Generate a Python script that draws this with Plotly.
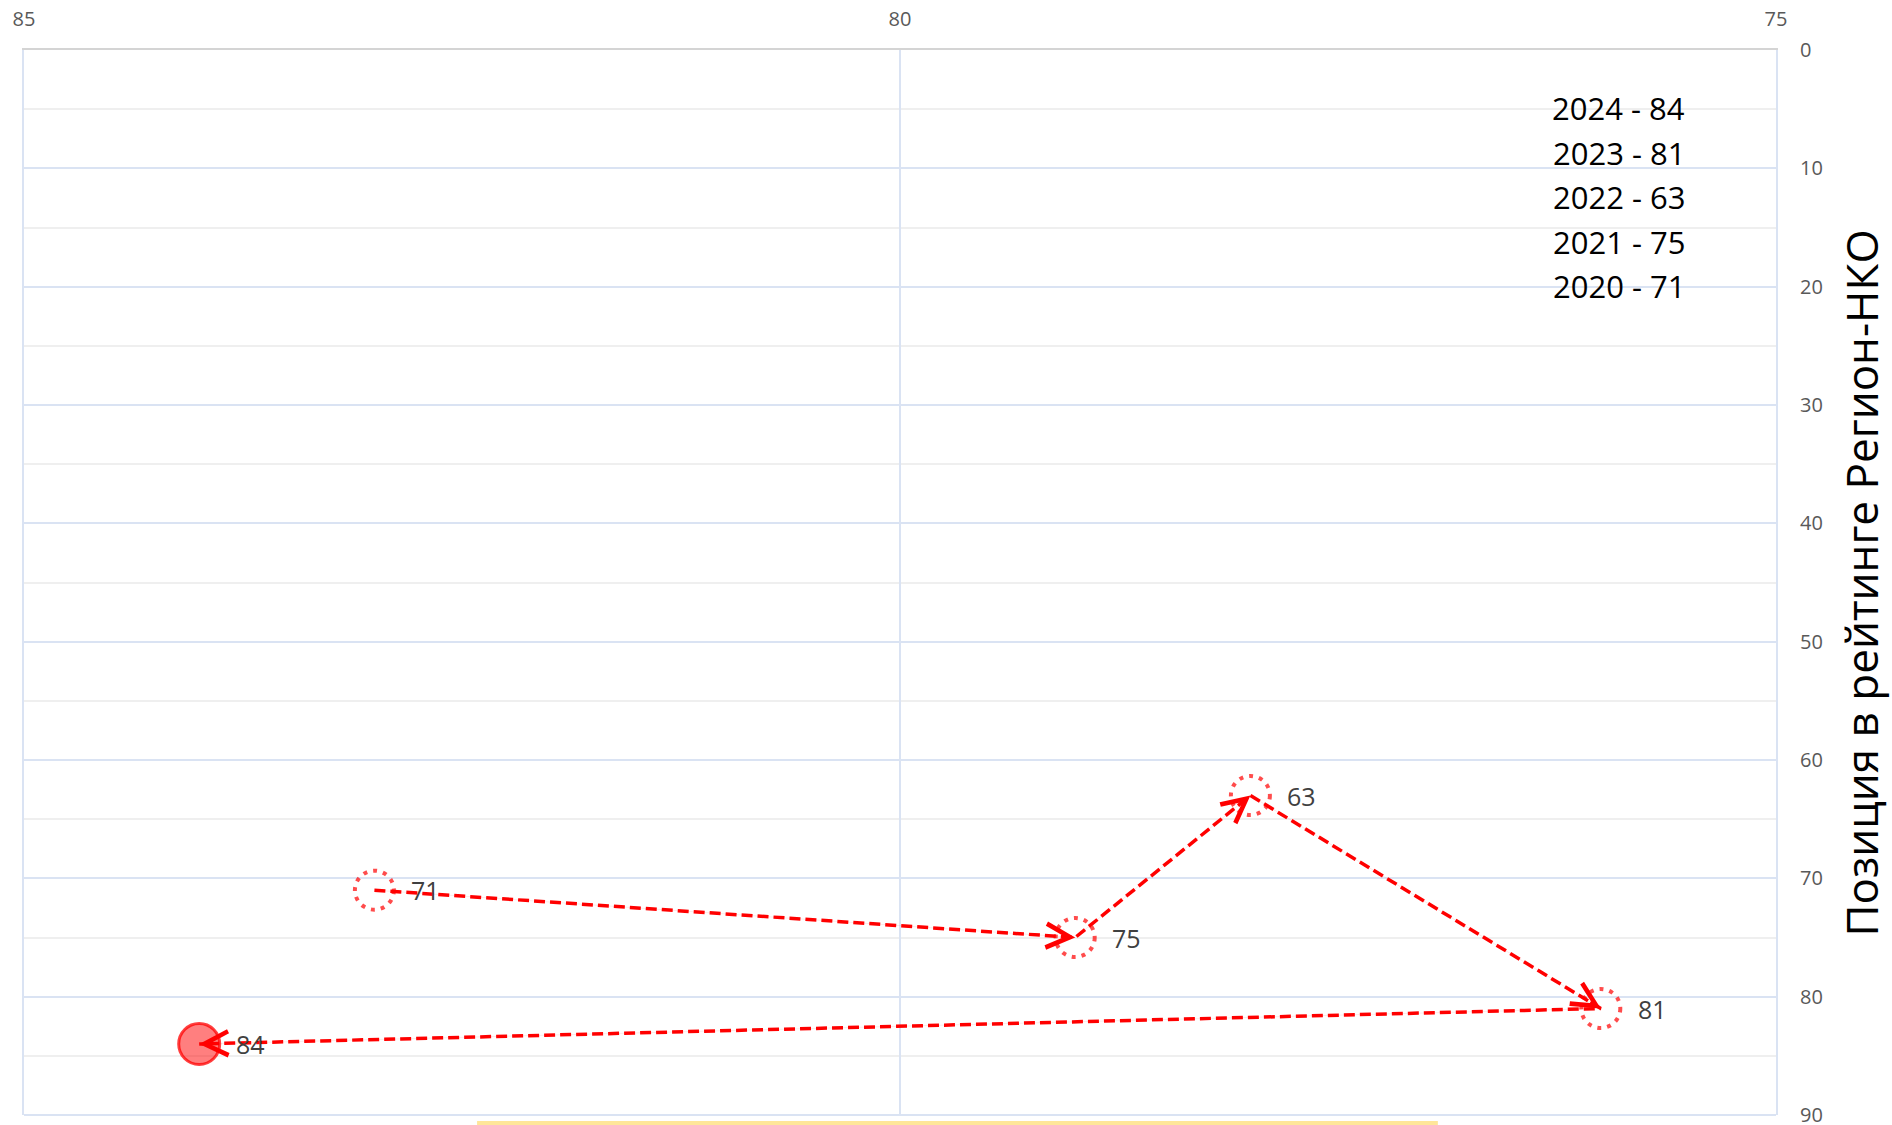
import plotly.graph_objects as go

# ---- data ----
years = [2020, 2021, 2022, 2023, 2024]
rank_y = [71, 75, 63, 81, 84]      # позиция в рейтинге Регион-НКО
rank_x = [83, 79, 78, 76, 84]      # horizontal position (top axis)

x_ticks = [85, 80, 75]
y_ticks = [0, 10, 20, 30, 40, 50, 60, 70, 80, 90]
y_title = "Позиция в рейтинге Регион-НКО"

RED = "#ff0000"
GRID_BLUE = "#dae3f3"
GRID_GRAY = "#efefef"
TICK_COL = "#595959"
FONT = "Open Sans"

fig = go.Figure()

# dashed path connecting the years
fig.add_trace(go.Scatter(
    x=rank_x, y=rank_y, mode="lines",
    line=dict(color=RED, width=3.5, dash="11px,5px"),
    hoverinfo="skip", showlegend=False,
))

# latest year: filled marker
fig.add_trace(go.Scatter(
    x=rank_x[-1:], y=rank_y[-1:], mode="markers",
    marker=dict(size=41, color="rgba(255,0,0,0.5)",
                line=dict(color="rgba(255,0,0,0.75)", width=3)),
    hoverinfo="skip", showlegend=False,
))

shapes = []
# previous years: dotted open circles anchored at the data points
R = 19.5
for xv, yv in zip(rank_x[:-1], rank_y[:-1]):
    shapes.append(dict(
        type="circle", xref="x", yref="y",
        xsizemode="pixel", ysizemode="pixel",
        xanchor=xv, yanchor=yv,
        x0=-R, x1=R, y0=-R, y1=R,
        line=dict(color="rgba(255,0,0,0.7)", width=4, dash="4px,6px"),
        fillcolor="rgba(0,0,0,0)",
    ))

# bottom border of the plot area
shapes.append(dict(
    type="line", xref="paper", yref="paper", x0=0, x1=1, y0=0, y1=0,
    line=dict(color=GRID_BLUE, width=2), layer="below",
))

# thin yellow strip at the very bottom of the picture
shapes.append(dict(
    type="rect", xref="paper", yref="paper",
    x0=0.2586, x1=0.807, y0=-0.0056, y1=-0.0094,
    line=dict(width=0), fillcolor="#ffe699",
))

annotations = []
# arrowheads (line-drawn chevrons) at the end of each step
for i in range(1, len(years)):
    annotations.append(dict(
        x=rank_x[i], y=rank_y[i], ax=rank_x[i - 1], ay=rank_y[i - 1],
        xref="x", yref="y", axref="x", ayref="y",
        text="", showarrow=True, arrowhead=5,
        arrowsize=47, arrowwidth=0.1, arrowcolor=RED,
    ))

# value labels next to the points
for xv, yv in zip(rank_x, rank_y):
    annotations.append(dict(
        x=xv, y=yv, xref="x", yref="y", text=str(yv),
        showarrow=False, xanchor="left", yanchor="middle", xshift=35,
        font=dict(family=FONT, size=25, color="#404040"),
    ))

# year list in the upper right
for i, (yr, rk) in enumerate(zip(years[::-1], rank_y[::-1])):
    annotations.append(dict(
        x=0.949, y=0.9455 - i * 0.0418, xref="paper", yref="paper",
        text=f"{yr} - {rk}", showarrow=False,
        xanchor="right", yanchor="middle",
        font=dict(family=FONT, size=31, color="#000000"),
    ))

# right-hand axis title
annotations.append(dict(
    x=1.0485, y=0.5, xref="paper", yref="paper",
    text=y_title, showarrow=False, textangle=-90,
    xanchor="center", yanchor="middle",
    font=dict(family=FONT, size=44, color="#000000"),
))

fig.update_layout(
    width=1892, height=1125,
    margin=dict(l=24, r=116, t=50, b=10),
    paper_bgcolor="white", plot_bgcolor="white",
    font=dict(family=FONT),
    showlegend=False,
    shapes=shapes, annotations=annotations,
    xaxis=dict(
        range=[85, 75], side="top", tickvals=x_ticks,
        showgrid=True, gridcolor=GRID_BLUE, gridwidth=2,
        zeroline=False, showline=True, linecolor="#d4d4d4", linewidth=2,
        ticks="outside", ticklen=14, tickcolor="rgba(0,0,0,0)",
        tickfont=dict(family=FONT, size=20, color=TICK_COL),
        ticklabeloverflow="allow", automargin=False,
    ),
    yaxis=dict(
        range=[90, 0], side="right", tickvals=y_ticks,
        showgrid=True, gridcolor=GRID_BLUE, gridwidth=2,
        minor=dict(dtick=5, tick0=0, showgrid=True, gridcolor=GRID_GRAY, gridwidth=2),
        zeroline=False, showline=True, mirror=True, linecolor=GRID_BLUE, linewidth=2,
        ticks="outside", ticklen=18, tickcolor="rgba(0,0,0,0)",
        tickfont=dict(family=FONT, size=20, color=TICK_COL),
        ticklabeloverflow="allow", automargin=False,
    ),
)

fig.write_html(
    "out.html",
    config={"displayModeBar": False},
    post_script="document.body.style.margin='0';document.body.style.overflow='hidden';",
)
